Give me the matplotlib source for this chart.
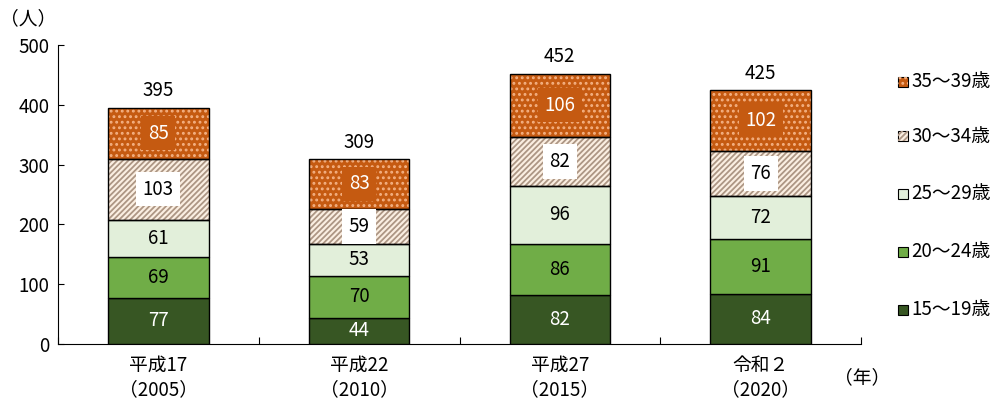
import matplotlib
matplotlib.use("Agg")
import matplotlib.pyplot as plt
import numpy as np
from matplotlib.patches import Rectangle

plt.rcParams['font.family'] = ['Noto Sans CJK JP', 'DejaVu Sans']
plt.rcParams['hatch.linewidth'] = 1.3

categories = ['平成17\n（2005）', '平成22\n（2010）', '平成27\n（2015）', '令和２\n（2020）']
series_names = ['15～19歳', '20～24歳', '25～29歳', '30～34歳', '35～39歳']
v15_19 = [77, 44, 82, 84]
v20_24 = [69, 70, 86, 91]
v25_29 = [61, 53, 96, 72]
v30_34 = [103, 59, 82, 76]
v35_39 = [85, 83, 106, 102]
totals = [395, 309, 452, 425]

series = [v15_19, v20_24, v25_29, v30_34, v35_39]
faces = ['#375623', '#70ad47', '#e2efda', '#fbefe2', '#c55a11']
hatches = [None, None, None, '//////', '...']
hatch_cols = [None, None, None, '#ad9684', '#f4b183']
txt_cols = ['white', 'black', 'black', 'black', 'white']
box_cols = [None, None, None, 'white', '#c55a11']

fig = plt.figure(figsize=(10, 4.12), dpi=100)
ax = fig.add_axes([0.058, 0.165, 0.803, 0.726])

x = np.arange(len(categories))
w = 0.5
bottom = np.zeros(len(categories))
for i, vals in enumerate(series):
    vals = np.array(vals, dtype=float)
    if hatches[i]:
        ax.bar(x, vals, w, bottom=bottom, color=faces[i], edgecolor=hatch_cols[i],
               hatch=hatches[i], linewidth=0, zorder=2)
        ax.bar(x, vals, w, bottom=bottom, fill=False, edgecolor='black', linewidth=1.0, zorder=3)
    else:
        ax.bar(x, vals, w, bottom=bottom, color=faces[i], edgecolor='black', linewidth=1.0, zorder=3)
    for xi, b, v in zip(x, bottom, vals):
        kw = {}
        if box_cols[i]:
            kw['bbox'] = dict(boxstyle='square,pad=0.35', facecolor=box_cols[i], edgecolor='none')
        ax.text(xi, b + v / 2, f'{int(v)}', ha='center', va='center', fontsize=13.5,
                color=txt_cols[i], zorder=4, **kw)
    bottom += vals

for xi, t in zip(x, totals):
    ax.text(xi, t + 28, str(t), ha='center', va='center', fontsize=13.5, color='black')

ax.set_xlim(-0.5, 3.5)
ax.set_ylim(0, 500)
ax.set_yticks(np.arange(0, 501, 100))
ax.tick_params(axis='y', direction='in', length=4, labelsize=13.5, pad=6)
ax.set_xticks(np.arange(-0.5, 3.6, 1.0))
ax.set_xticklabels([])
ax.tick_params(axis='x', direction='in', length=5)
ax.set_xticks(x, minor=True)
ax.set_xticklabels(categories, minor=True, fontsize=13.5, linespacing=1.2)
ax.tick_params(axis='x', which='minor', length=0, pad=8)
for s in ['top', 'right']:
    ax.spines[s].set_visible(False)

fig.text(0.028, 0.955, '（人）', ha='center', va='center', fontsize=13.5)
fig.text(0.862, 0.083, '（年）', ha='center', va='center', fontsize=13.5)

# legend
leg_y = [82, 136, 194, 252, 310]
for i, yy in zip(range(4, -1, -1), leg_y):
    yf = 1 - yy / 412
    r = Rectangle((0.898, yf - 0.013), 0.010, 0.026, transform=fig.transFigure,
                  facecolor=faces[i], edgecolor='black', linewidth=0.8)
    fig.patches.append(r)
    if hatches[i]:
        r2 = Rectangle((0.898, yf - 0.013), 0.010, 0.026, transform=fig.transFigure,
                       facecolor='none', edgecolor=hatch_cols[i], hatch=hatches[i], linewidth=0)
        fig.patches.append(r2)
    fig.text(0.911, yf, series_names[i], ha='left', va='center', fontsize=13.5)

fig.savefig('out.png', dpi=100)
